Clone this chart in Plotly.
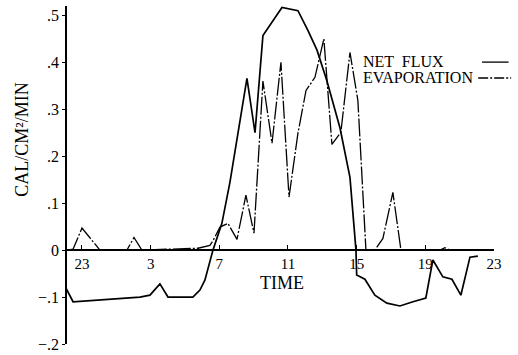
import plotly.graph_objects as go

# Hours counted continuously from 23h of day 1 (23 .. 47 == 23h next day)
net_hours = [22.07, 22.48, 26.38, 26.96, 27.54, 28.01, 29.46, 29.87, 30.16, 30.63,
             31.15, 31.62, 32.61, 33.08, 33.54, 34.65, 35.58, 36.16, 36.69, 37.27,
             38.03, 38.61, 38.96, 39.0, 39.48, 40.06, 40.76, 41.52, 42.28, 43.03,
             43.44, 44.02, 44.55, 45.07, 45.60, 46.06]
net_flux = [-0.081, -0.11, -0.10, -0.096, -0.072, -0.10, -0.10, -0.085, -0.064, 0.0,
            0.057, 0.145, 0.366, 0.25, 0.457, 0.517, 0.51, 0.468, 0.426, 0.36,
            0.26, 0.155, 0.0, -0.053, -0.062, -0.096, -0.113, -0.119, -0.11, -0.102,
            -0.021, -0.057, -0.062, -0.096, -0.015, -0.013]

evap_hours = [22.18, 22.48, 23.0, 24.05, 25.62, 26.03, 26.49, 29.76, 30.45, 30.63,
              31.04, 31.50, 32.03, 32.55, 33.02, 33.54, 34.07, 34.59, 35.06, 35.58,
              36.05, 36.57, 37.09, 37.56, 38.08, 38.61, 39.07, 39.54, 40.06, 40.53,
              41.11, 41.58, 43.85, 44.14, 44.43, 46.06]
evaporation = [0.0, 0.002, 0.047, 0.0, 0.0, 0.027, 0.0, 0.004, 0.01, 0.02,
               0.049, 0.057, 0.023, 0.117, 0.036, 0.36, 0.228, 0.40, 0.113, 0.249,
               0.34, 0.368, 0.45, 0.225, 0.251, 0.421, 0.319, 0.0, 0.0, 0.025,
               0.123, 0.0, 0.0, 0.005, 0.0, 0.0]

x_tick_vals = [23, 27, 31, 35, 39, 43, 47]
x_tick_text = ["23", "3", "7", "11", "15", "19", "23"]
y_tick_vals = [-0.2, -0.1, 0, 0.1, 0.2, 0.3, 0.4, 0.5]
y_tick_text = ["\u2212.2", "\u2212.1", "0", ".1", ".2", ".3", ".4", ".5"]

SERIF = "Liberation Serif"
Y_MIN, Y_MAX = -0.2, 0.52

fig = go.Figure()
fig.add_trace(go.Scatter(x=net_hours, y=net_flux, mode="lines",
                         line=dict(color="black", width=1.7), name="NET FLUX",
                         showlegend=False))
fig.add_trace(go.Scatter(x=evap_hours, y=evaporation, mode="lines",
                         line=dict(color="black", width=1.3, dash="18px,2px,2px,2px"),
                         name="EVAPORATION", showlegend=False))

fig.update_layout(
    width=518, height=355,
    margin=dict(l=66, r=24, t=6, b=11),
    paper_bgcolor="white", plot_bgcolor="white",
    font=dict(family=SERIF, color="black"),
    xaxis=dict(range=[22.07, 47], tickvals=x_tick_vals, ticktext=x_tick_text,
               showgrid=False, zeroline=False, showline=True, linecolor="black",
               linewidth=1.5, ticks="inside", ticklen=4, tickcolor="black",
               tickfont=dict(size=15, family=SERIF), anchor="free", automargin=False,
               position=(0 - Y_MIN) / (Y_MAX - Y_MIN)),
    yaxis=dict(range=[Y_MIN, Y_MAX], tickvals=y_tick_vals, ticktext=y_tick_text,
               showgrid=False, zeroline=False, showline=True, linecolor="black",
               linewidth=1.5, ticks="outside", ticklen=3, tickcolor="black",
               tickfont=dict(size=16, family=SERIF), anchor="free", position=0,
               automargin=False),
)

fig.add_annotation(text="TIME", xref="x", yref="y", x=34.65, y=-0.07,
                   xanchor="center", yanchor="middle",
                   showarrow=False, font=dict(size=18, family=SERIF))
fig.add_annotation(text="CAL/CM\u00b2/MIN", xref="paper", yref="paper",
                   x=-0.103, y=0.604, xanchor="center", yanchor="middle",
                   textangle=-90, showarrow=False,
                   font=dict(size=18, family=SERIF))

# legend with samples on the right, as in the original
fig.add_annotation(text="NET  FLUX", xref="paper", yref="paper", x=0.69, y=0.837,
                   xanchor="left", yanchor="middle", showarrow=False,
                   font=dict(size=16, family=SERIF))
fig.add_annotation(text="EVAPORATION", xref="paper", yref="paper", x=0.69, y=0.787,
                   xanchor="left", yanchor="middle", showarrow=False,
                   font=dict(size=16, family=SERIF))
fig.add_shape(type="line", xref="paper", yref="paper", x0=0.972, x1=1.034,
              y0=0.834, y1=0.834, line=dict(color="black", width=1.3))
fig.add_shape(type="line", xref="paper", yref="paper", x0=0.963, x1=1.04,
              y0=0.787, y1=0.787, line=dict(color="black", width=1.3, dash="10px,2px,2px,2px"))

fig.write_html("out.html", config={"displayModeBar": False},
               post_script="document.body.style.margin='0';")
